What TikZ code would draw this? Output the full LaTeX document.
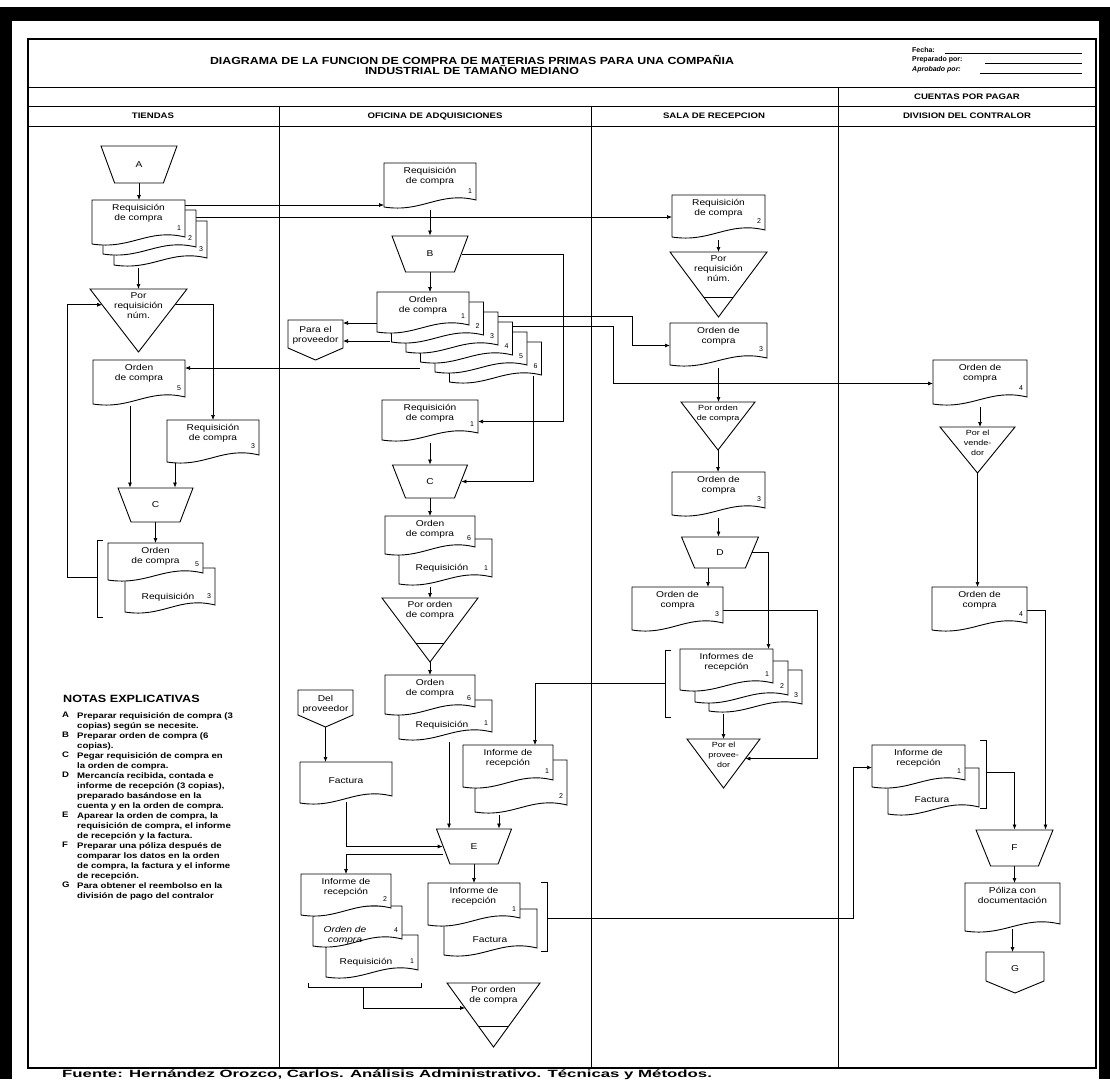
\documentclass[tikz,border=0pt]{standalone}
\usepackage{fontspec}
\setmainfont{Liberation Sans}
\newfontfamily\wf{Liberation Sans}[FakeStretch=1.2]
\newfontfamily\capf{Liberation Sans}[FakeStretch=1.6]
\usetikzlibrary{arrows.meta,shapes.geometric,calc}
\pgfdeclarelayer{frame}\pgfdeclarelayer{lines}
\pgfsetlayers{frame,lines,main}
\tikzset{
  arr/.style={line width=0.7pt,-{Latex[length=5pt,width=4pt]}},
  shp/.style={line width=0.9pt,draw=black,fill=white},
  shpl/.style={line width=0.9pt},
  box/.style={inner sep=0pt,outer sep=0pt,draw=none},
  lab/.style={font=\wf\fontsize{8.5}{10}\selectfont,align=center,inner sep=0pt},
  slab/.style={font=\wf\fontsize{7.5}{10}\selectfont,align=center,inner sep=0pt},
  num/.style={font=\fontsize{7}{7}\selectfont,inner sep=0pt},
  trap/.style={trapezium,trapezium left angle=108,trapezium right angle=108,trapezium stretches=true,draw,line width=0.9pt,fill=white,inner sep=0pt,font=\wf\fontsize{8.5}{10}\selectfont},
  hdr/.style={font=\wf\bfseries\fontsize{8}{9}\selectfont,inner sep=0pt},
  ttl/.style={font=\wf\bfseries\fontsize{10.3}{10}\selectfont,align=center,inner sep=0pt},
  ntl/.style={font=\wf\bfseries\fontsize{8}{10}\selectfont,align=left,inner sep=0pt,anchor=north west},
}
% document symbol: name x1 y1 x2 y2 text number
\newcommand\docu[7]{%
  \pgfmathsetmacro\dw{#4-#2}\pgfmathsetmacro\dh{#5-#3}%
  \pgfmathsetmacro\dcx{(#2+#4)/2}\pgfmathsetmacro\dcy{(#3+#5)/2}%
  \filldraw[shp] (#2,#3) -- (#4,#3) -- (#4,#5-10) .. controls ({#4-0.4*\dw},#5-19) and ({#2+0.42*\dw},#5+3) .. (#2,#5-3) -- cycle;
  \node[box,minimum width=\dw pt,minimum height=\dh pt] (#1) at (\dcx,\dcy) {};
  \node[lab,anchor=north] (#1-t) at (\dcx,#3+4) {#6};
  \node[num] (#1-n) at (#4-6,#5-19) {#7};
}
% file triangle: [style] name x1 y1 x2 y2 text
\newcommand\trifile[7][lab]{%
  \pgfmathsetmacro\dw{#5-#3}\pgfmathsetmacro\dh{#6-#4}%
  \pgfmathsetmacro\dcx{(#3+#5)/2}\pgfmathsetmacro\dcy{(#4+#6)/2}%
  \filldraw[shp] (#3,#4) -- (#5,#4) -- (\dcx,#6) -- cycle;
  \node[box,minimum width=\dw pt,minimum height=\dh pt] (#2) at (\dcx,\dcy) {};
  \node[#1,anchor=north] (#2-t) at (\dcx,#4+3) {#7};
}
% line inside a triangle: x1 y1 x2 y2 liney
\newcommand\trline[5]{%
  \pgfmathsetmacro\hw{(#3-#1)/2*(#4-#5)/(#4-#2)}\pgfmathsetmacro\dcx{(#1+#3)/2}%
  \draw[shpl] (\dcx-\hw,#5) -- (\dcx+\hw,#5);
}
% off-page connector: name x1 y1 x2 y2 text texty
\newcommand\offp[7]{%
  \pgfmathsetmacro\dw{#4-#2}\pgfmathsetmacro\dh{#5-#3}%
  \pgfmathsetmacro\dcx{(#2+#4)/2}\pgfmathsetmacro\dcy{(#3+#5)/2}%
  \filldraw[shp] (#2,#3) -- (#4,#3) -- (#4,#5-12) -- (\dcx,#5) -- (#2,#5-12) -- cycle;
  \node[box,minimum width=\dw pt,minimum height=\dh pt] (#1) at (\dcx,\dcy) {};
  \node[lab] (#1-t) at (\dcx,#7) {#6};
}
\begin{document}
\begin{tikzpicture}[x=1pt,y=-1pt]
\useasboundingbox (0,0) rectangle (1110,1079);
\begin{pgfonlayer}{frame}
\fill[white] (0,0) rectangle (1110,1079);
\fill[black] (0,7) rectangle (1110,1079);
\fill[white] (12,21) rectangle (1099,1079);
\draw[line width=1.2pt] (28,39) rectangle (1096,1068);
\draw[line width=1pt] (28,87) -- (1096,87) (28,106) -- (1096,106) (28,126) -- (1096,126);
\draw[line width=1pt] (279,106) -- (279,1068) (591,106) -- (591,1068) (838,87) -- (838,1068);
\draw[line width=0.6pt] (945,53) -- (1082,53) (985,63) -- (1082,63) (980,73) -- (1082,73);
\end{pgfonlayer}
% title block
\node[ttl] (title) at (472,65) {DIAGRAMA DE LA FUNCION DE COMPRA DE MATERIAS PRIMAS PARA UNA COMPAÑIA\\INDUSTRIAL DE TAMAÑO MEDIANO};
\node[font=\bfseries\fontsize{7}{8}\selectfont,anchor=west,inner sep=0pt] (fecha) at (912,50) {Fecha:};
\node[font=\bfseries\fontsize{7}{8}\selectfont,anchor=west,inner sep=0pt] (prep) at (912,60) {Preparado por:};
\node[font=\bfseries\itshape\fontsize{7}{8}\selectfont,anchor=west,inner sep=0pt] (aprob) at (912,70) {Aprobado por:};
\node[hdr] (hcp) at (967,97) {CUENTAS POR PAGAR};
\node[hdr] (h1) at (153,116) {TIENDAS};
\node[hdr] (h2) at (435,116) {OFICINA DE ADQUISICIONES};
\node[hdr] (h3) at (714,116) {SALA DE RECEPCION};
\node[hdr] (h4) at (967,116) {DIVISION DEL CONTRALOR};
% ---------------- TIENDAS
\node[trap,minimum width=76pt,minimum height=37pt] (A) at (139,164.5) {A};
\docu{reqT3}{114}{221}{207}{268}{}{3}
\docu{reqT2}{103}{210}{196}{257}{}{2}
\docu{reqT}{92}{200}{185}{247}{Requisición\\de compra}{1}
\trifile{triT}{90}{289}{187}{352}{Por\\requisición\\núm.}
\docu{ordT}{93}{360}{185}{407}{Orden\\de compra}{5}
\docu{req3T}{167}{420}{259}{465}{Requisición\\de compra}{3}
\node[trap,minimum width=75pt,minimum height=34pt] (CT) at (155.5,505) {C};
\docu{reqTb}{125}{568}{215}{615}{}{3}
\node[lab] (reqTb-x) at (168,597) {Requisición};
\docu{ordTb}{108}{543}{203}{583}{Orden\\de compra}{5}
\draw[shpl] (103,540) -- (97,540) -- (97,617) -- (103,617);
\coordinate (brT) at (97,577);
% notes
\node[font=\wf\bfseries\fontsize{10.5}{10}\selectfont,anchor=west,inner sep=0pt] (notas) at (63,699) {NOTAS EXPLICATIVAS};
\node[ntl] (nA) at (62,712) {A}; \node[ntl] (nAt) at (77,712) {Preparar requisición de compra (3\\copias) según se necesite.};
\node[ntl] (nB) at (62,732) {B}; \node[ntl] (nBt) at (77,732) {Preparar orden de compra (6\\copias).};
\node[ntl] (nC) at (62,752) {C}; \node[ntl] (nCt) at (77,752) {Pegar requisición de compra en\\la orden de compra.};
\node[ntl] (nD) at (62,772) {D}; \node[ntl] (nDt) at (77,772) {Mercancía recibida, contada e\\informe de recepción (3 copias),\\preparado basándose en la\\cuenta y en la orden de compra.};
\node[ntl] (nE) at (62,812) {E}; \node[ntl] (nEt) at (77,812) {Aparear la orden de compra, la\\requisición de compra, el informe\\de recepción y la factura.};
\node[ntl] (nF) at (62,842) {F}; \node[ntl] (nFt) at (77,842) {Preparar una póliza después de\\comparar los datos en la orden\\de compra, la factura y el informe\\de recepción.};
\node[ntl] (nG) at (62,882) {G}; \node[ntl] (nGt) at (77,882) {Para obtener el reembolso en la\\división de pago del contralor};
% ---------------- OFICINA
\docu{reqO1}{384}{163}{476}{210}{Requisición\\de compra}{1}
\node[trap,minimum width=76pt,minimum height=36pt] (B) at (430,254) {B};
\docu{ordO6}{449.5}{342}{541.5}{385}{}{6}
\docu{ordO5}{435}{332}{527}{375}{}{5}
\docu{ordO4}{420.5}{322}{512.5}{365}{}{4}
\docu{ordO3}{406}{312}{498}{355}{}{3}
\docu{ordO2}{391.5}{302}{483.5}{345}{}{2}
\docu{ordO}{377}{292}{469}{335}{Orden\\de compra}{1}
\offp{prov}{288}{320}{343}{360}{Para el\\proveedor}{335}
\coordinate (ordOb) at (390,341);
\coordinate (ordO5b) at (420,368);
\docu{reqO2}{382}{400}{478}{443}{Requisición\\de compra}{1}
\node[trap,minimum width=75pt,minimum height=33pt] (CO) at (430,481.5) {C};
\docu{reqO7}{399}{539}{492}{587}{}{1}
\node[lab] (reqO7-x) at (442,568) {Requisición};
\docu{ordO7}{385}{516}{475}{557}{Orden\\de compra}{6}
\trifile{triO}{382}{598}{478}{662}{Por orden\\de compra}
\trline{382}{598}{478}{662}{643}
\docu{reqO8}{399}{700}{492}{742}{}{1}
\node[lab] (reqO8-x) at (442,725) {Requisición};
\docu{ordO8}{385}{675}{475}{717}{Orden\\de compra}{6}
\offp{delp}{298}{690}{353}{727}{Del\\proveedor}{704}
\docu{fact}{300}{762}{392}{806}{}{}
\node[lab] (fact-x) at (346,781) {Factura};
\docu{infO2}{475}{760}{567}{815}{}{2}
\docu{infO1}{463}{745}{553}{790}{Informe de\\recepción}{1}
\node[trap,minimum width=75pt,minimum height=35pt] (E) at (474,846.5) {E};
\docu{reqL}{326}{935}{418}{980}{}{1}
\node[lab] (reqL-x) at (366,962) {Requisición};
\docu{ordL}{313}{906}{402}{949}{}{4}
\node[lab,font=\wf\itshape\fontsize{8.5}{10}\selectfont] (ordL-x) at (345,935) {Orden de\\compra};
\docu{infL}{301}{874}{391}{918}{Informe de\\recepción}{2}
\draw[shpl] (308,983) -- (308,987) -- (421,987) -- (421,983);
\coordinate (brL) at (363,987);
\docu{factR}{444}{909}{537}{958}{}{}
\node[lab] (factR-x) at (490,940) {Factura};
\docu{infR}{428}{883}{520}{928}{Informe de\\recepción}{1}
\draw[shpl] (541,882) -- (547,882) -- (547,951) -- (541,951);
\coordinate (brR) at (547,918);
\trifile{triO2}{447}{983}{540}{1047}{Por orden\\de compra}
\trline{447}{983}{540}{1047}{1026}
% ---------------- SALA DE RECEPCION
\docu{reqS}{672}{195}{765}{240}{Requisición\\de compra}{2}
\trifile{triS1}{670}{252}{767}{317}{Por\\requisición\\núm.}
\trline{670}{252}{767}{317}{297}
\docu{ordS}{670}{323}{767}{368}{Orden de\\compra}{3}
\trifile[slab]{triS2}{681}{402}{755}{450}{Por orden\\de compra}
\docu{ordS2}{672}{472}{765}{518}{Orden de\\compra}{3}
\node[trap,minimum width=77pt,minimum height=31pt] (D) at (720,552.5) {D};
\docu{ordS3}{632}{587}{723}{633}{Orden de\\compra}{3}
\docu{infS3}{709}{670}{802}{714}{}{3}
\docu{infS2}{695}{661}{788}{705}{}{2}
\docu{infS}{680}{649}{773}{693}{Informes de\\recepción}{1}
\draw[shpl] (671,650) -- (665,650) -- (665,717) -- (671,717);
\coordinate (brS) at (665,683);
\trifile[slab]{triS3}{687}{739}{760}{788}{Por el\\provee-\\dor}
% ---------------- CONTRALOR
\docu{ordC}{933}{360}{1027}{407}{Orden de\\compra}{4}
\trifile[slab]{triC}{940}{427}{1015}{473}{Por el\\vende-\\dor}
\docu{ordC2}{932}{587}{1027}{633}{Orden de\\compra}{4}
\docu{factC}{888}{768}{979}{817}{}{}
\node[lab] (factC-x) at (932,800) {Factura};
\docu{infC}{872}{745}{965}{790}{Informe de\\recepción}{1}
\draw[shpl] (980,740) -- (986,740) -- (986,808) -- (980,808);
\coordinate (brC) at (986,772);
\node[trap,minimum width=77pt,minimum height=36pt] (F) at (1014.5,848) {F};
\docu{pol}{965}{883}{1060}{934}{Póliza con\\documentación}{}
\offp{G}{986}{952}{1044}{993}{G}{969}
% caption
\node[font=\capf\bfseries\fontsize{10.5}{11}\selectfont,anchor=base west,inner sep=0pt] (src) at (62,1077) {Fuente: Hernández Orozco, Carlos. Análisis Administrativo. Técnicas y Métodos.};
% ---------------- CONNECTORS
\begin{pgfonlayer}{lines}
\draw[arr] (A.south) -- (A.south |- reqT.north);
\draw[arr] (reqT3.south -| triT.north) -- (triT.north);
\draw[arr] ($(triT.north east)!0.25!(triT.south)$) -| (req3T.north);
\draw[arr] (brT) -- ++(-30,0) |- ($(triT.north west)!0.25!(triT.south)$);
\coordinate (t1) at ($(ordT.south)+(-9,-1)$);
\draw[arr] (t1) -- (t1 |- CT.north);
\coordinate (t2) at ($(req3T.south west)+(8,-2)$);
\draw[arr] (t2) -- (t2 |- CT.north);
\draw[arr] (CT.south) -- (CT.south |- ordTb.north);
\draw[arr] (reqT.east |- 0,205) -- (reqO1.west |- 0,205);
\draw[arr] (reqT2.east |- 0,217) -- (reqS.west |- 0,217);
\draw[arr] (reqO1.south) -- (reqO1.south |- B.north);
\draw[arr] (B.east) -| (563,421.5) -- (reqO2.east);
\draw[arr] (B.south) -- (B.south |- ordO.north);
\draw[arr] (ordO.west |- 0,323) -- (prov.east |- 0,323);
\draw[arr] (ordOb) -- (prov.east |- ordOb);
\draw[arr] (ordO3.east |- 0,316) -- (632,316) |- (ordS.west);
\draw[arr] (ordO4.east |- 0,326) -- (613,326) |- (ordC.west);
\draw[arr] (ordO5b) -- (ordT.east |- ordO5b);
\draw[arr] ([xshift=-8pt,yshift=9pt]ordO6.south east) |- (CO.east);
\draw[arr] (reqO2.south) -- (reqO2.south |- CO.north);
\draw[arr] (CO.south) -- (CO.south |- ordO7.north);
\draw[arr] (triO.north |- reqO7.south) -- (triO.north);
\draw[arr] (triO.south) -- (triO.south |- ordO8.north);
\draw[arr] (delp.south) -- (delp.south |- fact.north);
\draw[arr] ([yshift=4pt]fact.south) |- (E.west);
\coordinate (e1) at ($(E.north)+(-25,0)$);
\draw[arr] (e1 |- reqO8.south) -- (e1);
\coordinate (e2) at ($(E.north)+(25,0)$);
\draw[arr] (e2 |- infO2.south) -- (e2);
\draw[arr] (brS) -| ([xshift=27pt]infO1.north);
\draw[arr] ([yshift=-8pt]E.west) -| (infL.north);
\draw[arr] (E.south) -- (E.south |- infR.north);
\draw[arr] (brL) |- ($(triO2.north west)!0.39!(triO2.south)$);
\draw[arr] (brR) -- (853,918) |- (infC.west);
\draw[arr] (reqS.south) -- (reqS.south |- triS1.north);
\draw[arr] (ordS.south) -- (ordS.south |- triS2.north);
\draw[arr] (triS2.south) -- (triS2.south |- ordS2.north);
\draw[arr] (ordS2.south) -- (ordS2.south |- D.north);
\coordinate (d1) at ($(D.south)+(-12,0)$);
\draw[arr] (d1) -- (d1 |- ordS3.north);
\draw[arr] (D.east) -| ([xshift=42pt]infS.north);
\draw[arr] (ordS3.east) -- (ordS3.east -| 817,0) |- ($(triS3.north east)!0.4!(triS3.south)$);
\draw[arr] (triS3.north |- infS3.south) -- (triS3.north);
\draw[arr] (ordC.south) -- (ordC.south |- triC.north);
\draw[arr] (triC.south) -- (triC.south |- ordC2.north);
\draw[arr] (ordC2.east) -| ([xshift=31pt]F.north);
\draw[arr] (brC) -| (F.north);
\draw[arr] (F.south) -- (F.south |- pol.north);
\draw[arr] ([yshift=5pt]pol.south) -- (pol.south |- G.north);
\end{pgfonlayer}
\end{tikzpicture}
\end{document}
